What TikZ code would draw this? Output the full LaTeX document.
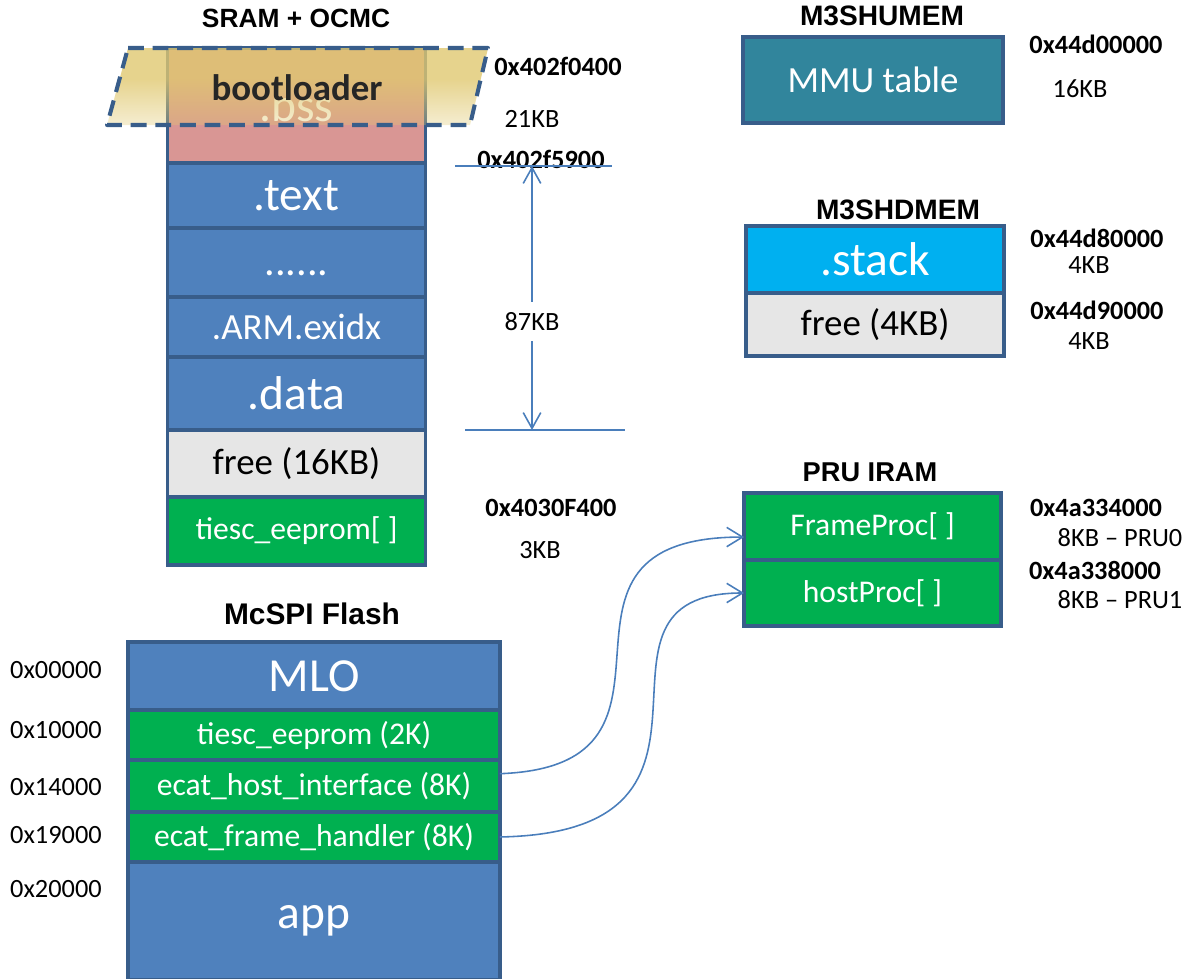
\documentclass[tikz,border=0pt]{standalone}
\usepackage{fontspec}
\setmainfont{Carlito}
\newfontfamily\headfont{Liberation Sans}
\usetikzlibrary{positioning, arrows.meta, fadings}
\definecolor{blkblue}{HTML}{4F81BD}
\definecolor{blkline}{HTML}{385D8A}
\definecolor{blkpink}{HTML}{D99694}
\definecolor{blkgreen}{HTML}{00B050}
\definecolor{blkcyan}{HTML}{00B0F0}
\definecolor{blkteal}{HTML}{31859C}
\definecolor{blkfree}{HTML}{E6E6E6}
\definecolor{linkblue}{HTML}{4A7EBB}
\definecolor{bootyellow}{HTML}{E0C870}
\pgfdeclareverticalshading{bootshade}{100bp}{color(0bp)=(pgftransparent!100); color(5bp)=(pgftransparent!100); color(55bp)=(pgftransparent!0); color(100bp)=(pgftransparent!0)}
\pgfdeclarefading{bootfade}{\pgfuseshading{bootshade}}
\tikzset{
  block/.style={draw=blkline, line width=2pt, outer sep=0pt, inner sep=0pt, text=white},
  bigtext/.style={font=\fontsize{27}{30}\selectfont},
  midtext/.style={font=\fontsize{21}{24}\selectfont},
  smalltext/.style={font=\fontsize{18}{21}\selectfont},
  sram/.style={block, minimum width=5.16cm},
  right block/.style={block, minimum width=5.16cm},
  flash/.style={block, minimum width=7.44cm, fill=blkgreen, smalltext},
  freeblock/.style={fill=blkfree, text=black, midtext},
  title/.style={font=\headfont\bfseries\fontsize{15}{18}\selectfont},
  addr/.style={font=\bfseries\fontsize{15}{18}\selectfont},
  size/.style={font=\fontsize{15}{18}\selectfont},
  link/.style={draw=linkblue, line width=0.9pt, -{Straight Barb[length=9pt,width=11pt]}},
  dim/.style={draw=linkblue, line width=0.9pt},
}

\begin{document}
\begin{tikzpicture}[x=0.02cm, y=-0.02cm]
  \useasboundingbox (0,0) rectangle (1187,978);

  % SRAM + OCMC
  \node[title] (sramtitle) at (296,18) {SRAM + OCMC};
  \node[sram, fill=blkpink, minimum height=2.3cm, bigtext] (bss) at (296.5,105.5) {.bss};
  \node[sram, fill=blkblue, minimum height=1.3cm, bigtext, below=0pt of bss] (txt) {.text};
  \node[sram, fill=blkblue, minimum height=1.38cm, font=\fontsize{24}{27}\selectfont, below=0pt of txt] (dots) {\vphantom{.text}......};
  \node[sram, fill=blkblue, minimum height=1.2cm, midtext, below=0pt of dots] (exidx) {.ARM.exidx};
  \node[sram, fill=blkblue, minimum height=1.46cm, bigtext, below=0pt of exidx] (data) {.data};
  \node[sram, freeblock, minimum height=1.34cm, below=0pt of data] (free16) {free (16KB)};
  \node[sram, fill=blkgreen, minimum height=1.36cm, smalltext, below=0pt of free16] (eeprom) {tiesc\_eeprom[ ]};

  % bootloader overlay
  \fill[bootyellow, fill opacity=0.8, path fading=bootfade]
    (128,48) -- (488,48) -- (470,125) -- (107,125) -- cycle;
  \draw[blkline, line width=2.3pt, dash pattern=on 9pt off 5pt, line join=round]
    (128,48) -- (488,48) -- (470,125) -- (107,125) -- cycle;
  \node[font=\bfseries\fontsize{21}{24}\selectfont, text=black!85] (boot) at (297,88) {bootloader};

  \node[addr] (a0400) at (558,66) {0x402f0400};
  \node[size] (s21) at (532,119) {21KB};
  \node[addr] (a5900) at (541,159) {0x402f5900};
  \node[addr] (af400) at (551,508) {0x4030F400};
  \node[size] (s3) at (540,550) {3KB};

  \coordinate (dimtop) at (532,166);
  \coordinate (dimbot) at (532,430);
  \draw[dim] (455,166) -- (612,166);
  \draw[dim] (465,430) -- (625,430);
  \draw[dim, {Straight Barb[length=9pt,width=10pt]}-{Straight Barb[length=9pt,width=10pt]}]
    (dimtop) -- node[pos=0.59, fill=white, inner sep=6pt, size, text=black] (s87) {87KB} (dimbot);

  % M3SHUMEM
  \node[title, font=\headfont\bfseries\fontsize{16}{18}\selectfont] (umemtitle) at (882,16) {M3SHUMEM};
  \node[right block, fill=blkteal, minimum width=5.2cm, minimum height=1.72cm,
        font=\fontsize{21}{24}\selectfont] (mmu) at (873,80) {MMU table};
  \node[addr] (a0000) at (1096,44) {0x44d00000};
  \node[size] (s16) at (1080,89) {16KB};

  % M3SHDMEM
  \node[title, font=\headfont\bfseries\fontsize{16}{18}\selectfont] (dmemtitle) at (898,210) {M3SHDMEM};
  \node[right block, fill=blkcyan, minimum height=1.34cm, bigtext] (stack) at (875,259.5) {.stack};
  \node[right block, freeblock, minimum height=1.26cm, below=0pt of stack] (free4) {free (4KB)};
  \node[addr] (a8000) at (1097,238) {0x44d80000};
  \node[size] (s4a) at (1089,265) {4KB};
  \node[addr] (a9000) at (1097,310) {0x44d90000};
  \node[size] (s4b) at (1089,341) {4KB};

  % PRU IRAM
  \node[title, font=\headfont\bfseries\fontsize{15.5}{18}\selectfont] (prutitle) at (870,472) {PRU IRAM};
  \node[right block, fill=blkgreen, minimum width=5.14cm, minimum height=1.34cm, smalltext] (fproc) at (872.5,526.5) {FrameProc[ ]};
  \node[right block, fill=blkgreen, minimum width=5.14cm, minimum height=1.32cm, smalltext, below=0pt of fproc] (hproc) {hostProc[ ]};
  \node[addr] (a4000) at (1096,508) {0x4a334000};
  \node[size] (pru0) at (1120,538) {8KB – PRU0};
  \node[addr] (a8000b) at (1095,570) {0x4a338000};
  \node[size] (pru1) at (1120,600) {8KB – PRU1};

  % McSPI Flash
  \node[title, font=\headfont\bfseries\fontsize{17}{20}\selectfont] (flashtitle) at (312,614) {McSPI Flash};
  \node[flash, fill=blkblue, minimum height=1.36cm, bigtext] (mlo) at (314,676) {MLO};
  \node[flash, minimum height=1.0cm, below=0pt of mlo] (feeprom) {tiesc\_eeprom (2K)};
  \node[flash, minimum height=1.04cm, below=0pt of feeprom] (fhost) {ecat\_host\_interface (8K)};
  \node[flash, minimum height=1.0cm, below=0pt of fhost] (fframe) {ecat\_frame\_handler (8K)};
  \node[flash, fill=blkblue, minimum height=2.36cm, bigtext, below=0pt of fframe] (app) {app};

  \node[size] (o0) at (56,670) {0x00000};
  \node[size] (o1) at (56,730) {0x10000};
  \node[size] (o2) at (56,787) {0x14000};
  \node[size] (o3) at (56,835) {0x19000};
  \node[size] (o4) at (56,889) {0x20000};

  % links to PRU
  \draw[link] ([yshift=7pt]fhost.east) .. controls +(220,-8) and +(-232,0) .. ([yshift=-6pt]fproc.west);
  \draw[link] (fframe.east) .. controls +(268,-5) and +(-185,0) .. (hproc.west);
\end{tikzpicture}
\end{document}
